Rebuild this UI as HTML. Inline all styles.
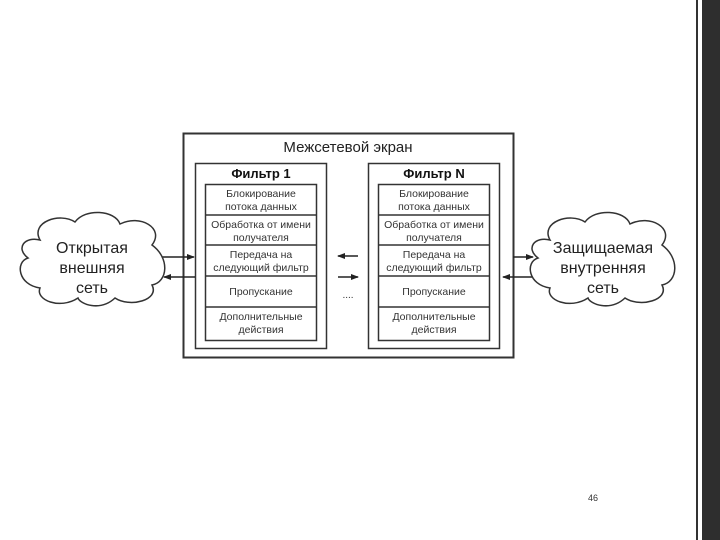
<!DOCTYPE html>
<html><head><meta charset="utf-8"><style>
body{margin:0;width:720px;height:540px;background:#fff;overflow:hidden;position:relative;font-family:"Liberation Sans",sans-serif}
</style></head><body>
<svg width="720" height="540" style="position:absolute;left:0;top:0" font-family="Liberation Sans, sans-serif">
<defs><marker id="a" markerWidth="8" markerHeight="8" refX="7" refY="4" orient="auto" markerUnits="userSpaceOnUse"><path d="M0,1 L8,4 L0,7 Z" fill="#222"/></marker></defs>
<rect x="183.5" y="133.5" width="330" height="224" fill="#fff" stroke="#333" stroke-width="2"/>
<text x="348" y="152" font-size="15" text-anchor="middle" fill="#222">Межсетевой экран</text>
<g stroke="#333" stroke-width="1.5" fill="#fff">
<rect x="195.5" y="163.5" width="131" height="185"/>
<rect x="368.5" y="163.5" width="131" height="185"/>
<rect x="205.5" y="184.5" width="111" height="156"/>
<rect x="378.5" y="184.5" width="111" height="156"/>
<path d="M205 215H317M205 245H317M205 276H317M205 307H317M378 215H490M378 245H490M378 276H490M378 307H490"/>
</g>
<g font-size="10.5" fill="#333" text-anchor="middle">
<text x="261" y="178" font-weight="bold" font-size="13" fill="#111">Фильтр 1</text>
<text x="434" y="178" font-weight="bold" font-size="13" fill="#111">Фильтр N</text>
<text x="261" y="197">Блокирование</text><text x="261" y="210">потока данных</text>
<text x="261" y="228">Обработка от имени</text><text x="261" y="241">получателя</text>
<text x="261" y="258">Передача на</text><text x="261" y="271">следующий фильтр</text>
<text x="261" y="295">Пропускание</text>
<text x="261" y="320">Дополнительные</text><text x="261" y="333">действия</text>
<text x="434" y="197">Блокирование</text><text x="434" y="210">потока данных</text>
<text x="434" y="228">Обработка от имени</text><text x="434" y="241">получателя</text>
<text x="434" y="258">Передача на</text><text x="434" y="271">следующий фильтр</text>
<text x="434" y="295">Пропускание</text>
<text x="434" y="320">Дополнительные</text><text x="434" y="333">действия</text>
</g>
<g stroke="#222" stroke-width="1.5">
<line x1="162" y1="257" x2="194" y2="257" marker-end="url(#a)"/>
<line x1="195" y1="277" x2="164" y2="277" marker-end="url(#a)"/>
<line x1="513" y1="257" x2="533" y2="257" marker-end="url(#a)"/>
<line x1="532" y1="277" x2="503" y2="277" marker-end="url(#a)"/>
<line x1="358" y1="256" x2="338" y2="256" marker-end="url(#a)"/>
<line x1="338" y1="277" x2="358" y2="277" marker-end="url(#a)"/>
</g>
<text x="348" y="298" font-size="10" text-anchor="middle" fill="#333">....</text>
<g fill="#fff" stroke="#333" stroke-width="1.5">
<path d="M40,240 C30,222 60,212 75,222 C85,208 115,210 120,224 C140,214 165,228 152,245 C170,258 168,282 152,285 C160,300 130,308 115,298 C100,312 80,304 78,298 C60,310 35,300 40,288 C18,285 15,262 28,258 C15,248 25,236 40,240 Z"/>
<path d="M550,240 C540,222 570,212 585,222 C595,208 625,210 630,224 C650,214 675,228 662,245 C680,258 678,282 662,285 C670,300 640,308 625,298 C610,312 590,304 588,298 C570,310 545,300 550,288 C528,285 525,262 538,258 C525,248 535,236 550,240 Z"/>
</g>
<g font-size="16" fill="#222" text-anchor="middle">
<text x="92" y="253">Открытая</text><text x="92" y="273">внешняя</text><text x="92" y="293">сеть</text>
<text x="603" y="253">Защищаемая</text><text x="603" y="273">внутренняя</text><text x="603" y="293">сеть</text>
</g>
<text x="593" y="501" font-size="9" text-anchor="middle" fill="#333">46</text>
<rect x="696" y="0" width="2" height="540" fill="#333"/>
<rect x="702" y="0" width="18" height="540" fill="#2e2e2e"/>
</svg>
</body></html>
